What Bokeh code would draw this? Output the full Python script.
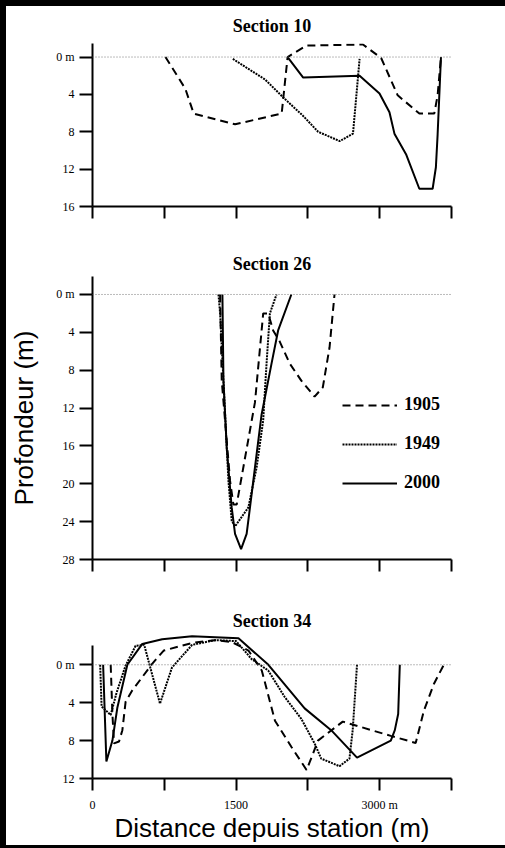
from bokeh.plotting import figure
from bokeh.models import Range1d, FixedTicker, Span, Legend, LegendItem
from bokeh.layouts import column
from bokeh.embed import file_html
from bokeh.resources import INLINE

# ---------------- data ----------------
years = ["1905", "1949", "2000"]
x_ticks = [0, 750, 1500, 2250, 3000, 3750]
x_tick_labels = {0: "0", 750: "", 1500: "1500", 2250: "", 3000: "3000 m", 3750: ""}

titles = ["Section 10", "Section 26", "Section 34"]

# Section 10
s10_1905_x = [762, 970, 1057, 1490, 1976, 2038, 2235, 2825, 3015, 3188, 3414, 3570, 3605, 3640]
s10_1905_d = [0, 3.4, 6.05, 7.2, 6.05, 0, -1.23, -1.34, 0.1, 4.1, 6.05, 6.05, 4.1, 0]
s10_1949_x = [1466, 1802, 2010, 2200, 2357, 2582, 2721, 2790]
s10_1949_d = [0.2, 2.4, 4.5, 6.3, 8.0, 9.0, 8.2, 0.2]
s10_2000_x = [2038, 2201, 2790, 2998, 3102, 3154, 3275, 3414, 3553, 3587, 3605, 3640]
s10_2000_d = [0, 2.2, 2.0, 3.9, 5.9, 8.2, 10.4, 14.1, 14.1, 11.8, 8.3, 0]

# Section 26
s26_1905_x = [1333, 1350, 1437, 1472, 1506, 1697, 1783, 1835, 1887, 1957, 2060, 2181, 2320, 2406, 2476, 2528]
s26_1905_d = [0, 9.1, 19.7, 22.2, 22.2, 11.4, 2.0, 2.0, 3.8, 5.0, 7.3, 9.1, 10.8, 9.8, 5.6, 0]
s26_1949_x = [1316, 1333, 1385, 1420, 1454, 1489, 1628, 1714, 1783, 1818, 1853, 1922]
s26_1949_d = [0, 2, 12.6, 19.7, 23.9, 24.5, 22.5, 18.3, 13.3, 7.3, 2.0, 0]
s26_2000_x = [1357, 1368, 1402, 1454, 1489, 1552, 1610, 1645, 1714, 1766, 1870, 1939, 2077]
s26_2000_d = [0, 9.1, 16.2, 22.5, 25.3, 26.9, 25.3, 22.5, 16.9, 12.7, 7.3, 3.8, 0]

# Section 34
s34_1905_x = [190, 208, 225, 277, 312, 346, 416, 623, 744, 1039, 1281, 1456, 1629, 1768, 1906, 2080,
              2236, 2303, 2355, 2614, 3116, 3376, 3463, 3567, 3670]
s34_1905_d = [0, 5.2, 8.3, 8.1, 6.9, 3.9, 2.7, -0.1, -1.5, -2.3, -2.6, -2.4, -1.5, 0.6, 5.9, 8.7,
              11.1, 9.4, 8.0, 6.0, 7.5, 8.25, 4.8, 2.0, 0]
s34_1949_x = [80, 95, 190, 250, 345, 450, 540, 705, 830, 1040, 1280, 1500, 1662, 1835, 2008, 2181,
              2320, 2389, 2580, 2684, 2718, 2763]
s34_1949_d = [0, 4.4, 5.3, 3.0, 0.1, -2.0, -2.1, 4.1, 0.3, -2.1, -2.6, -2.5, -0.6, 0.6, 3.4, 5.7,
              8.3, 9.9, 10.7, 9.9, 6.9, 0]
s34_2000_x = [111, 145, 208, 260, 364, 520, 728, 1040, 1525, 1837, 2216, 2493, 2763, 3116, 3158, 3193, 3210]
s34_2000_d = [0, 10.2, 8.0, 4.5, 0, -2.2, -2.7, -3.0, -2.8, 0, 4.6, 6.9, 9.8, 8.0, 6.9, 5.2, 0]

s10_y_ticks = [0, 4, 8, 12, 16]
s26_y_ticks = [0, 4, 8, 12, 16, 20, 24, 28]
s34_y_ticks = [0, 4, 8, 12]

# ---------------- styling ----------------
SERIF = "Liberation Serif"
SANS = "Liberation Sans"
styles = {
    "1905": dict(line_dash="8 5", line_width=2),
    "1949": dict(line_dash="2 1", line_width=2),
    "2000": dict(line_dash="solid", line_width=2),
}

W = 499
ML, MR = 84, 54


def make_fig(title, height, top, bottom, y_lo, y_hi, y_ticks, y_bounds, show_x_labels, t_standoff):
    p = figure(width=W, height=height, output_backend="svg", toolbar_location=None,
               x_range=Range1d(0, 3750), y_range=Range1d(y_lo, y_hi),
               min_border_left=ML, min_border_right=MR, min_border_top=top,
               min_border_bottom=bottom, title=title)
    p.title.align = "center"
    p.title.text_font = SERIF
    p.title.text_font_style = "bold"
    p.title.text_font_size = "18px"
    p.title.text_color = "black"
    p.title.standoff = t_standoff
    p.outline_line_color = None
    p.xgrid.visible = False
    p.ygrid.visible = False
    p.background_fill_color = "white"
    p.border_fill_color = "white"
    for ax in (p.xaxis[0], p.yaxis[0]):
        ax.axis_line_width = 2
        ax.axis_line_color = "black"
        ax.major_tick_line_width = 2
        ax.major_tick_line_color = "black"
        ax.major_tick_in = 0
        ax.minor_tick_line_color = None
        ax.major_label_text_font = SERIF
        ax.major_label_text_font_size = "12px"
        ax.major_label_text_color = "black"
    p.xaxis.ticker = FixedTicker(ticks=x_ticks)
    p.xaxis.major_tick_out = 12
    p.xaxis.major_label_standoff = 7
    p.yaxis.major_tick_out = 13
    p.yaxis.major_label_standoff = 5
    p.yaxis.ticker = FixedTicker(ticks=y_ticks)
    p.yaxis.major_label_overrides = {0: "0 m"}
    p.yaxis.bounds = y_bounds
    if show_x_labels:
        p.xaxis.major_label_overrides = x_tick_labels
    else:
        p.xaxis.major_label_overrides = {t: "" for t in x_ticks}
    p.add_layout(Span(location=0, dimension="width", line_color="#777777",
                      line_width=1, line_dash="1 2"))
    return p


p1 = make_fig(titles[0], 229, 35, 29, 16, -1.45, s10_y_ticks, (-1.45, 16), False, 15)
p2 = make_fig(titles[1], 355, 41, 31, 28, -1.9, s26_y_ticks, (-1.9, 28), False, 5)
p3 = make_fig(titles[2], 255, 43, 67, 12, -3.3, s34_y_ticks, (-2.0, 12), True, 5)

data = {
    p1: [(s10_1905_x, s10_1905_d), (s10_1949_x, s10_1949_d), (s10_2000_x, s10_2000_d)],
    p2: [(s26_1905_x, s26_1905_d), (s26_1949_x, s26_1949_d), (s26_2000_x, s26_2000_d)],
    p3: [(s34_1905_x, s34_1905_d), (s34_1949_x, s34_1949_d), (s34_2000_x, s34_2000_d)],
}
legend_rs = {}
for p, series in data.items():
    for yr, (xs, ds) in zip(years, series):
        r = p.line(xs, ds, line_color="black", **styles[yr])
        if p is p2:
            legend_rs[yr] = r

p2.yaxis.axis_label = "Profondeur (m)"
p2.yaxis.axis_label_text_font = SANS
p2.yaxis.axis_label_text_font_style = "normal"
p2.yaxis.axis_label_text_font_size = "26px"
p2.yaxis.axis_label_text_color = "black"
p2.yaxis.axis_label_standoff = 14

p3.xaxis.axis_label = "Distance depuis station (m)"
p3.xaxis.axis_label_text_font = SANS
p3.xaxis.axis_label_text_font_style = "normal"
p3.xaxis.axis_label_text_font_size = "26px"
p3.xaxis.axis_label_text_color = "black"
p3.xaxis.axis_label_standoff = -2

legend = Legend(items=[LegendItem(label=yr, renderers=[legend_rs[yr]]) for yr in years],
                location=(250, 66), glyph_width=55, glyph_height=20, spacing=18,
                label_standoff=7, padding=0, margin=0,
                label_text_font=SERIF, label_text_font_style="bold",
                label_text_font_size="18px", label_text_color="black",
                border_line_color=None, background_fill_alpha=0)
p2.add_layout(legend)

layout = column(p1, p2, p3, spacing=0,
                styles={"border-style": "solid", "border-color": "black",
                        "border-width": "6px 0px 3px 6px"})

open("out.html", "w").write(file_html(layout, INLINE))
